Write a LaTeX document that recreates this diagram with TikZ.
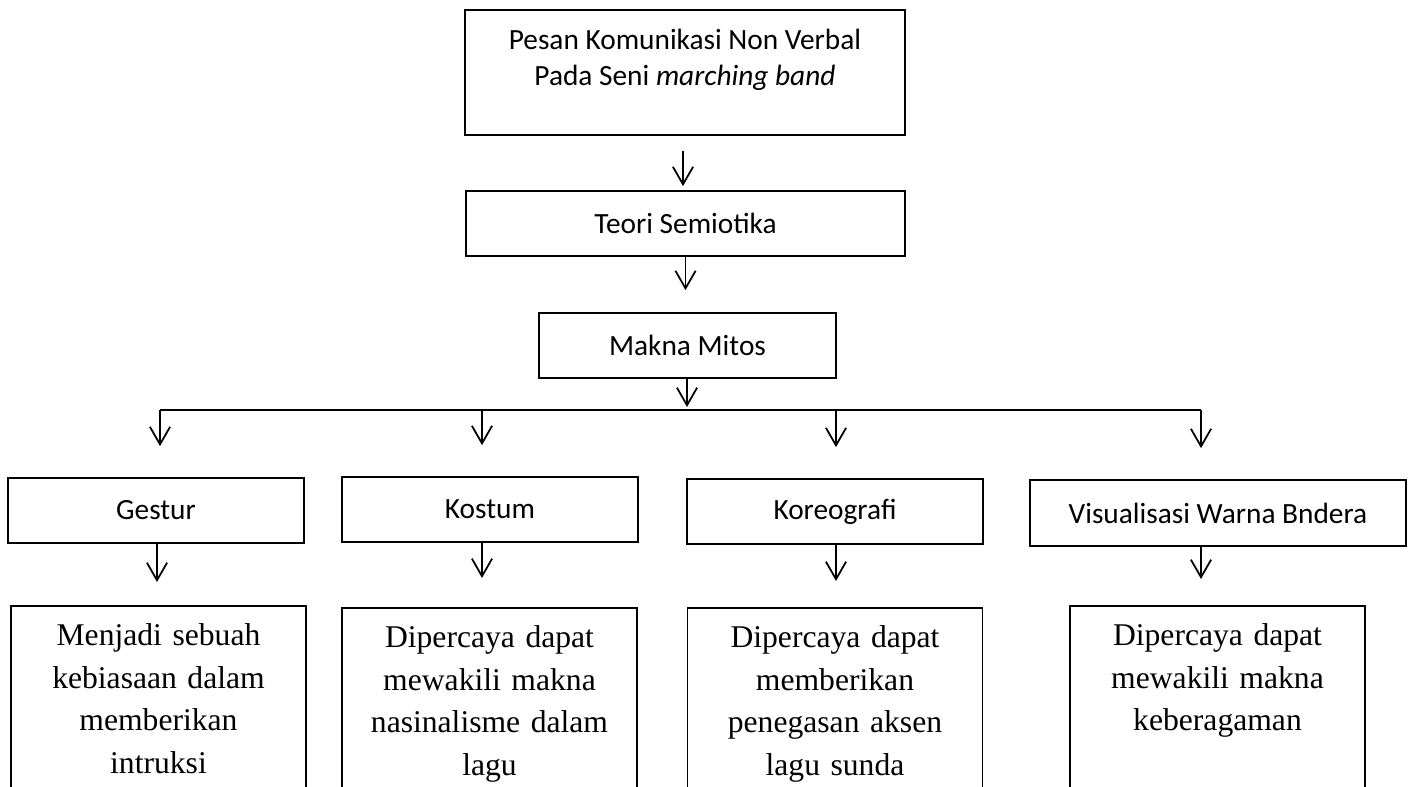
\documentclass[tikz,border=0pt]{standalone}
\usepackage{fontspec}
\setmainfont{Liberation Serif}
\newfontfamily\boxfont{Carlito}
\usetikzlibrary{arrows.meta}
\tikzset{>={Straight Barb[length=10pt,width=11.5pt]}}
\tikzset{
    box/.style={rectangle,draw,line width=1pt,minimum height=1.3cm,inner sep=0pt,font=\boxfont\fontsize{16.7}{20.5}\selectfont},
    boxtext/.style={align=center,inner sep=0pt,font=\boxfont\fontsize{16.7}{20.5}\selectfont},
    meaning/.style={rectangle,draw,line width=1pt,anchor=north,text width=5.9cm,align=center,
        inner xsep=0pt,inner ysep=0.36cm,text depth=5cm,font=\fontsize{18}{24.2}\selectfont},
    directed/.style={arrows={->},line width=1pt},
    joinline/.style={line width=1pt},
}

\begin{document}
\begin{tikzpicture}[x=0.02cm,y=-0.02cm]
		\path[use as bounding box,clip] (0,0) rectangle (1414,787);

		\node[box,minimum width=8.8cm,minimum height=2.5cm] (pesan) at (685,72.5) {};
		\node[boxtext] (pesantext) at (685,60) {Pesan Komunikasi Non Verbal\\Pada Seni \emph{marching band}};
		\node[box,minimum width=8.78cm] (teori) at (685.5,223.5) {Teori Semiotika};
		\node[box,minimum width=5.94cm] (makna) at (687.5,345.5) {Makna Mitos};

		\node[box,minimum width=5.92cm] (gestur) at (156,510.5) {Gestur};
		\node[box,minimum width=5.92cm] (kostum) at (490,509.5) {Kostum};
		\node[box,minimum width=5.92cm] (koreo) at (835,511.5) {Koreografi};
		\node[box,minimum width=7.52cm,minimum height=1.32cm] (visual) at (1218,513) {Visualisasi Warna Bndera};

		\node[meaning] (gesturarti) at (158.5,605) {Menjadi sebuah\\kebiasaan dalam\\memberikan\\intruksi};
		\node[meaning] (kostumarti) at (489.5,607) {Dipercaya dapat\\mewakili makna\\nasinalisme dalam\\lagu};
		\node[meaning] (koreoarti) at (835,607) {Dipercaya dapat\\memberikan\\penegasan aksen\\lagu sunda};
		\node[meaning] (visualarti) at (1217.5,605) {Dipercaya dapat\\mewakili makna\\keberagaman};

		\coordinate (split) at (687,410);
		\coordinate (j1) at (160,410);
		\coordinate (j2) at (482,410);
		\coordinate (j3) at (836,410);
		\coordinate (j4) at (1201,410);

		\draw[directed,shorten <=0.3cm,shorten >=0.08cm] (pesan.south -| 683,0) -- (teori.north -| 683,0);
		\draw[directed,shorten >=0.44cm] (teori.south) -- (teori.south |- makna.north);
		\draw[directed,shorten >=0.06cm] (makna.south -| split) -- (split);
		\draw[joinline] (j1) -- (j4);

		\draw[directed,shorten >=0.62cm] (j1) -- (j1 |- gestur.north);
		\draw[directed,shorten >=0.62cm] (j2) -- (j2 |- kostum.north);
		\draw[directed,shorten >=0.62cm] (j3) -- (j3 |- koreo.north);
		\draw[directed,shorten >=0.62cm] (j4) -- (j4 |- visual.north);

		\draw[directed,shorten >=0.46cm] (gestur.south -| 157,0) -- (gesturarti.north -| 157,0);
		\draw[directed,shorten >=0.58cm] (kostum.south -| j2) -- (kostumarti.north -| j2);
		\draw[directed,shorten >=0.52cm] (koreo.south -| j3) -- (koreoarti.north -| j3);
		\draw[directed,shorten >=0.52cm] (visual.south -| j4) -- (visualarti.north -| j4);
	\end{tikzpicture}
\end{document}
